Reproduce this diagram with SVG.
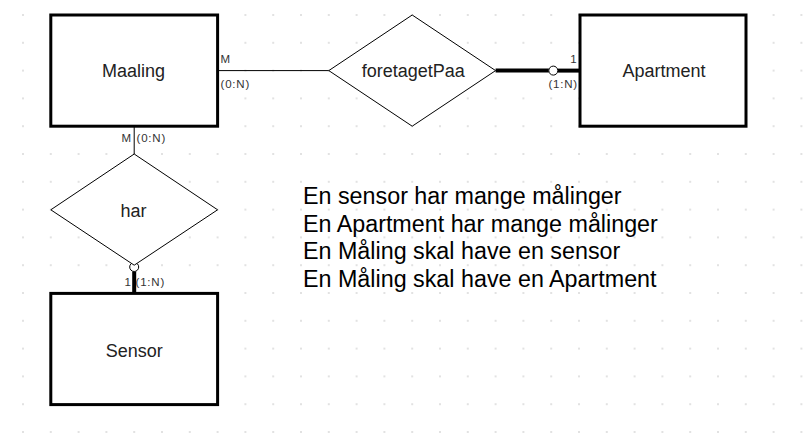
<svg xmlns="http://www.w3.org/2000/svg" width="805" height="447" viewBox="0 0 805 447">
<defs>
<pattern id="grid" patternUnits="userSpaceOnUse" x="9.1" y="1.1" width="27.8" height="27.8">
<rect x="13.4" y="13.4" width="1" height="1" fill="#8a8a8a"/>
</pattern>
<style>
.ent{fill:#fff;stroke:#000;stroke-width:3}
.rel{fill:#fff;stroke:#000;stroke-width:1}
.lbl{font-family:"Liberation Sans",Arial,sans-serif;font-size:18px;fill:#222;text-anchor:middle}
.card{font-family:"Liberation Sans",Arial,sans-serif;font-size:11.5px;fill:#333;letter-spacing:0.8px}
.thin{stroke:#000;stroke-width:1;fill:none}
.thick{stroke:#000;stroke-width:4;fill:none}
.opt{fill:#fff;stroke:#000;stroke-width:1}
.note{font-family:"Liberation Sans",Arial,sans-serif;font-size:23.3px;fill:#000}
</style>
</defs>
<rect width="805" height="447" fill="#fff"/>
<rect width="805" height="447" fill="url(#grid)"/>
<g id="connectors">
<line class="thin" x1="217.6" y1="70.6" x2="328.8" y2="70.6"/>
<line class="thick" x1="495.6" y1="70.6" x2="548.8" y2="70.6"/>
<line class="thick" x1="557.8" y1="70.6" x2="580" y2="70.6"/>
<circle class="opt" cx="553.3" cy="70.6" r="4.5"/>
<line class="thin" x1="134.2" y1="126.2" x2="134.2" y2="154"/>
<line class="thick" x1="134.2" y1="271.5" x2="134.2" y2="293.4"/>
<circle class="opt" cx="134.2" cy="267" r="4.5"/>
<text class="card" x="220.5" y="63.3">M</text>
<text class="card" x="220.5" y="88">(0:N)</text>
<text class="card" x="577.5" y="63.3" text-anchor="end">1</text>
<text class="card" x="578" y="88" text-anchor="end">(1:N)</text>
<text class="card" x="121.5" y="141.5">M</text>
<text class="card" x="136.5" y="141.5">(0:N)</text>
<text class="card" x="124.5" y="285.5">1</text>
<text class="card" x="135.5" y="285.5">(1:N)</text>
</g>
<g id="maaling">
<rect class="ent" x="50.8" y="15" width="166.8" height="111.2"/>
<text class="lbl" x="133.5" y="77.3">Maaling</text>
</g>
<g id="foretagetPaa">
<polygon class="rel" points="328.8,70.6 412.2,15 495.6,70.6 412.2,126.2"/>
<text class="lbl" x="413.3" y="77.3">foretagetPaa</text>
</g>
<g id="apartment">
<rect class="ent" x="580" y="15" width="166" height="111.2"/>
<text class="lbl" x="664" y="77.3">Apartment</text>
</g>
<g id="har">
<polygon class="rel" points="50.8,209.8 134.2,154 217.6,209.8 134.2,265.2"/>
<text class="lbl" x="133.5" y="217.3">har</text>
</g>
<g id="sensor">
<rect class="ent" x="50.8" y="293.4" width="166.8" height="111.2"/>
<text class="lbl" x="134.3" y="357.3">Sensor</text>
</g>
<g id="notes">
<text class="note" x="303" y="204.3">En sensor har mange målinger</text>
<text class="note" x="303" y="231.7">En Apartment har mange målinger</text>
<text class="note" x="303" y="259">En Måling skal have en sensor</text>
<text class="note" x="303" y="286.5">En Måling skal have en Apartment</text>
</g>
</svg>
